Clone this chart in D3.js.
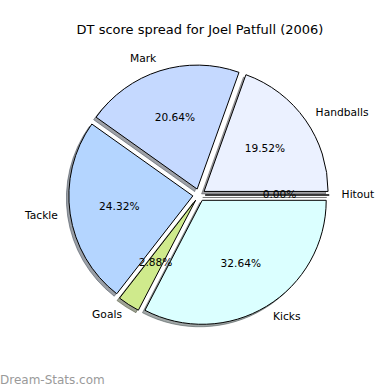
<!DOCTYPE html>
<html>
<head>
<meta charset="utf-8">
<script src="https://cdn.jsdelivr.net/npm/d3@7"></script>
<style>
  html, body { margin: 0; padding: 0; background: #fff; }
  svg { display: block; }
</style>
</head>
<body>
<script>
const title = "DT score spread for Joel Patfull (2006)";
const categories = ["Handballs", "Mark", "Tackle", "Goals", "Kicks", "Hitout"];
const values = [19.52, 20.64, 24.32, 2.88, 32.64, 0.0];
const colors = ["#ebf1ff", "#c5d9ff", "#b4d5ff", "#cfea8c", "#dbffff", "#ffffff"];
const explode = [0.05, 0.05, 0.05, 0.05, 0.05, 0.05];
const watermark = "Dream-Stats.com";

const W = 390, H = 390;
const cx = 199, cy = 195, R = 124;

const svg = d3.select("body").append("svg")
  .attr("width", W).attr("height", H)
  .style("font-family", "'DejaVu Sans', sans-serif");

svg.append("text")
  .attr("x", 200).attr("y", 30)
  .attr("text-anchor", "middle").attr("dominant-baseline", "middle")
  .style("font-size", "13px").text(title);

const data = categories.map((c, i) => ({ name: c, value: values[i], color: colors[i], explode: explode[i] }));

// matplotlib: start at east, counter-clockwise
const pie = d3.pie().sort(null).value(d => d.value)
  .startAngle(Math.PI / 2).endAngle(Math.PI / 2 - 2 * Math.PI);
const arcs = pie(data);
const arc = d3.arc().innerRadius(0).outerRadius(R);

const g = svg.append("g").attr("transform", `translate(${cx},${cy})`);

function mid(d) { return (d.startAngle + d.endAngle) / 2; }
function offset(d, k) {
  const a = mid(d);
  return [k * Math.sin(a), -k * Math.cos(a)];
}

const sh = 0.02 * R;
// shadows
g.selectAll("path.shadow").data(arcs).enter().append("path")
  .attr("class", "shadow")
  .attr("d", arc)
  .attr("transform", d => {
    const [ox, oy] = offset(d, d.data.explode * R);
    return `translate(${ox - sh},${oy + sh})`;
  })
  .each(function (d) {
    const c = d3.rgb(d.data.color);
    const s = `rgba(${Math.round(c.r * 0.3)},${Math.round(c.g * 0.3)},${Math.round(c.b * 0.3)},0.5)`;
    d3.select(this).attr("fill", s).attr("stroke", s).attr("stroke-width", 1);
  });

// wedges
g.selectAll("path.wedge").data(arcs).enter().append("path")
  .attr("class", "wedge")
  .attr("d", arc)
  .attr("transform", d => {
    const [ox, oy] = offset(d, d.data.explode * R);
    return `translate(${ox},${oy})`;
  })
  .attr("fill", d => d.data.color)
  .attr("stroke", "#000").attr("stroke-width", 1).attr("stroke-linejoin", "miter");

// labels
g.selectAll("text.label").data(arcs).enter().append("text")
  .attr("class", "label")
  .each(function (d) {
    const [ox, oy] = offset(d, d.data.explode * R);
    const [lx, ly] = offset(d, 1.1 * R);
    const a = mid(d);
    d3.select(this)
      .attr("x", ox + lx).attr("y", oy + ly)
      .attr("text-anchor", Math.sin(a) >= -1e-9 ? "start" : "end")
      .attr("dominant-baseline", "middle");
  })
  .style("font-size", "10.7px")
  .text(d => d.data.name);

// percentages
const fmt = d3.format(".2f");
g.selectAll("text.pct").data(arcs).enter().append("text")
  .attr("class", "pct")
  .each(function (d) {
    const [ox, oy] = offset(d, d.data.explode * R);
    const [lx, ly] = offset(d, 0.6 * R);
    d3.select(this).attr("x", ox + lx).attr("y", oy + ly);
  })
  .attr("text-anchor", "middle").attr("dominant-baseline", "middle")
  .style("font-size", "10.6px")
  .text(d => fmt(d.data.value) + "%");

svg.append("text")
  .attr("x", 0).attr("y", 380)
  .attr("dominant-baseline", "middle")
  .style("font-size", "12px").style("fill", "#9a9a9a")
  .text(watermark);
</script>
</body>
</html>
